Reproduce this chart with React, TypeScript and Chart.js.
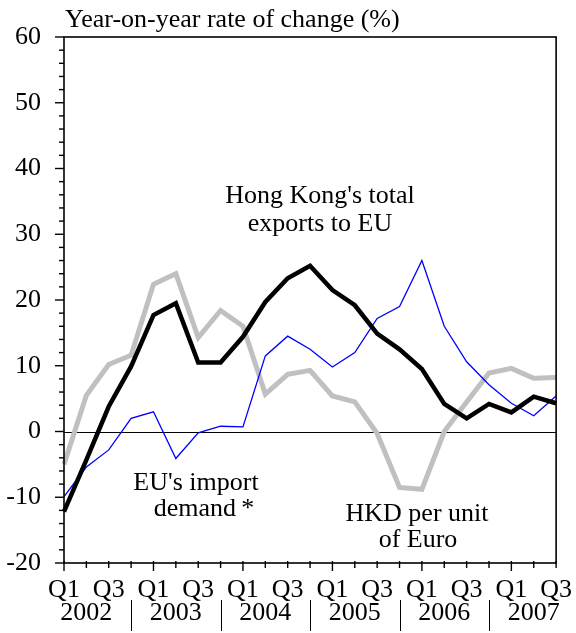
import React, { useEffect, useRef } from 'react';
import { Chart, registerables } from 'chart.js';

Chart.register(...registerables);

const quarters = [
  '2002Q1', '2002Q2', '2002Q3', '2002Q4',
  '2003Q1', '2003Q2', '2003Q3', '2003Q4',
  '2004Q1', '2004Q2', '2004Q3', '2004Q4',
  '2005Q1', '2005Q2', '2005Q3', '2005Q4',
  '2006Q1', '2006Q2', '2006Q3', '2006Q4',
  '2007Q1', '2007Q2', '2007Q3',
];
const quarterTickLabels = [
  'Q1', '', 'Q3', '', 'Q1', '', 'Q3', '', 'Q1', '', 'Q3', '',
  'Q1', '', 'Q3', '', 'Q1', '', 'Q3', '', 'Q1', '', 'Q3',
];
const years = ['2002', '2003', '2004', '2005', '2006', '2007'];

const hkExportsToEU = [-12.2, -4.3, 3.8, 9.9, 17.7, 19.5, 10.5, 10.5, 14.4, 19.7, 23.3, 25.2, 21.5, 19.2, 14.9, 12.5, 9.5, 4.2, 2.0, 4.2, 2.9, 5.3, 4.3];
const euImportDemand = [-9.9, -5.4, -2.8, 2.0, 3.0, -4.1, -0.2, 0.8, 0.7, 11.5, 14.5, 12.5, 9.8, 12.0, 17.2, 19.0, 26.0, 16.0, 10.6, 7.1, 4.3, 2.4, 5.4];
const hkdPerEuro = [-5.0, 5.5, 10.2, 11.6, 22.4, 24.0, 14.3, 18.4, 16.0, 5.7, 8.7, 9.3, 5.4, 4.5, -0.3, -8.5, -8.8, 0.0, 4.5, 8.9, 9.6, 8.1, 8.2];

const yMin = -20;
const yMax = 60;
const yMajorStep = 10;
const yMinorStep = 2;

const FONT_FAMILY = '"Liberation Serif", "Times New Roman", serif';
const FONT_SIZE = 26;

const decorPlugin = {
  id: 'decor',
  beforeDatasetsDraw(chart: any) {
    const { ctx, chartArea: a, scales } = chart;
    const y = scales.y;
    ctx.save();
    ctx.strokeStyle = '#000';
    ctx.lineWidth = 1.2;
    const z = Math.round(y.getPixelForValue(0)) + 0.5;
    ctx.beginPath();
    ctx.moveTo(a.left, z);
    ctx.lineTo(a.right, z);
    ctx.stroke();
    ctx.restore();
  },
  afterDraw(chart: any) {
    const { ctx, chartArea: a, scales } = chart;
    const x = scales.x;
    const y = scales.y;
    ctx.save();
    ctx.strokeStyle = '#000';
    ctx.lineWidth = 1.6;
    // frame
    ctx.strokeRect(a.left, a.top, a.right - a.left, a.bottom - a.top);
    // y ticks
    ctx.lineWidth = 1.4;
    for (let v = yMin; v <= yMax; v += yMinorStep) {
      const py = y.getPixelForValue(v);
      const len = v % yMajorStep === 0 ? 9 : 5;
      ctx.beginPath();
      ctx.moveTo(a.left - len, py);
      ctx.lineTo(a.left, py);
      ctx.stroke();
    }
    // x ticks
    for (let i = 0; i < quarters.length; i++) {
      const px = x.getPixelForValue(i);
      const len = i % 4 === 0 ? 8 : 5;
      ctx.beginPath();
      ctx.moveTo(px, a.bottom - 2);
      ctx.lineTo(px, a.bottom + len);
      ctx.stroke();
    }
    // year labels and separators
    ctx.fillStyle = '#000';
    ctx.font = `${FONT_SIZE}px ${FONT_FAMILY}`;
    ctx.textAlign = 'center';
    ctx.textBaseline = 'alphabetic';
    years.forEach((yr, k) => {
      const px = x.getPixelForValue(k * 4 + 1);
      ctx.fillText(yr, px, 620);
      if (k < years.length - 1) {
        const sx = Math.round(x.getPixelForValue(k * 4 + 3)) + 0.5;
        ctx.lineWidth = 1;
        ctx.beginPath();
        ctx.moveTo(sx, 600);
        ctx.lineTo(sx, 631);
        ctx.stroke();
      }
    });
    // title
    ctx.textAlign = 'left';
    ctx.fillText('Year-on-year rate of change (%)', 65, 27);
    // annotations
    ctx.textAlign = 'center';
    ctx.fillText("Hong Kong's total", 320, 203);
    ctx.fillText('exports to EU', 320, 231);
    ctx.fillText("EU's import", 196, 490);
    ctx.fillText('demand\u2009*', 204, 516);
    ctx.fillText('HKD per unit', 417, 521);
    ctx.fillText('of Euro', 418, 547);
    ctx.restore();
  },
};

export default function App() {
  const canvasRef = useRef<HTMLCanvasElement>(null);

  useEffect(() => {
    const canvas = canvasRef.current;
    if (!canvas) return;
    const chart = new Chart(canvas, {
      type: 'line',
      data: {
        labels: quarters,
        datasets: [
          {
            label: "Hong Kong's total exports to EU",
            data: hkExportsToEU,
            borderColor: '#000000',
            borderWidth: 4.5,
            pointRadius: 0,
            tension: 0,
            fill: false,
          },
          {
            label: "EU's import demand*",
            data: euImportDemand,
            borderColor: '#0000ff',
            borderWidth: 1.3,
            pointRadius: 0,
            tension: 0,
            fill: false,
          },
          {
            label: 'HKD per unit of Euro',
            data: hkdPerEuro,
            borderColor: '#c0c0c0',
            borderWidth: 5,
            pointRadius: 0,
            tension: 0,
            fill: false,
          },
        ],
      },
      options: {
        responsive: false,
        animation: false,
        devicePixelRatio: 1,
        layout: { padding: { left: 0, right: 18, top: 37, bottom: 0 } },
        plugins: {
          legend: { display: false },
          tooltip: { enabled: false },
          title: { display: false },
        },
        scales: {
          x: {
            type: 'category',
            offset: false,
            grid: { display: false },
            border: { display: false },
            ticks: {
              autoSkip: false,
              maxRotation: 0,
              minRotation: 0,
              padding: 4,
              color: '#000',
              font: { family: FONT_FAMILY, size: FONT_SIZE },
              callback: (_v: any, i: number) => quarterTickLabels[i],
            },
            afterFit: (s: any) => { s.height = 70; },
          },
          y: {
            min: yMin,
            max: yMax,
            grid: { display: false },
            border: { display: false },
            ticks: {
              stepSize: yMajorStep,
              padding: 15,
              color: '#000',
              font: { family: FONT_FAMILY, size: FONT_SIZE },
            },
            afterFit: (s: any) => { s.width = 64; },
          },
        },
      },
      plugins: [decorPlugin],
    });
    return () => chart.destroy();
  }, []);

  return (
    <div style={{ position: 'absolute', left: 0, top: 0, width: 576, height: 633, background: '#fff' }}>
      <canvas ref={canvasRef} width={576} height={633} />
    </div>
  );
}
